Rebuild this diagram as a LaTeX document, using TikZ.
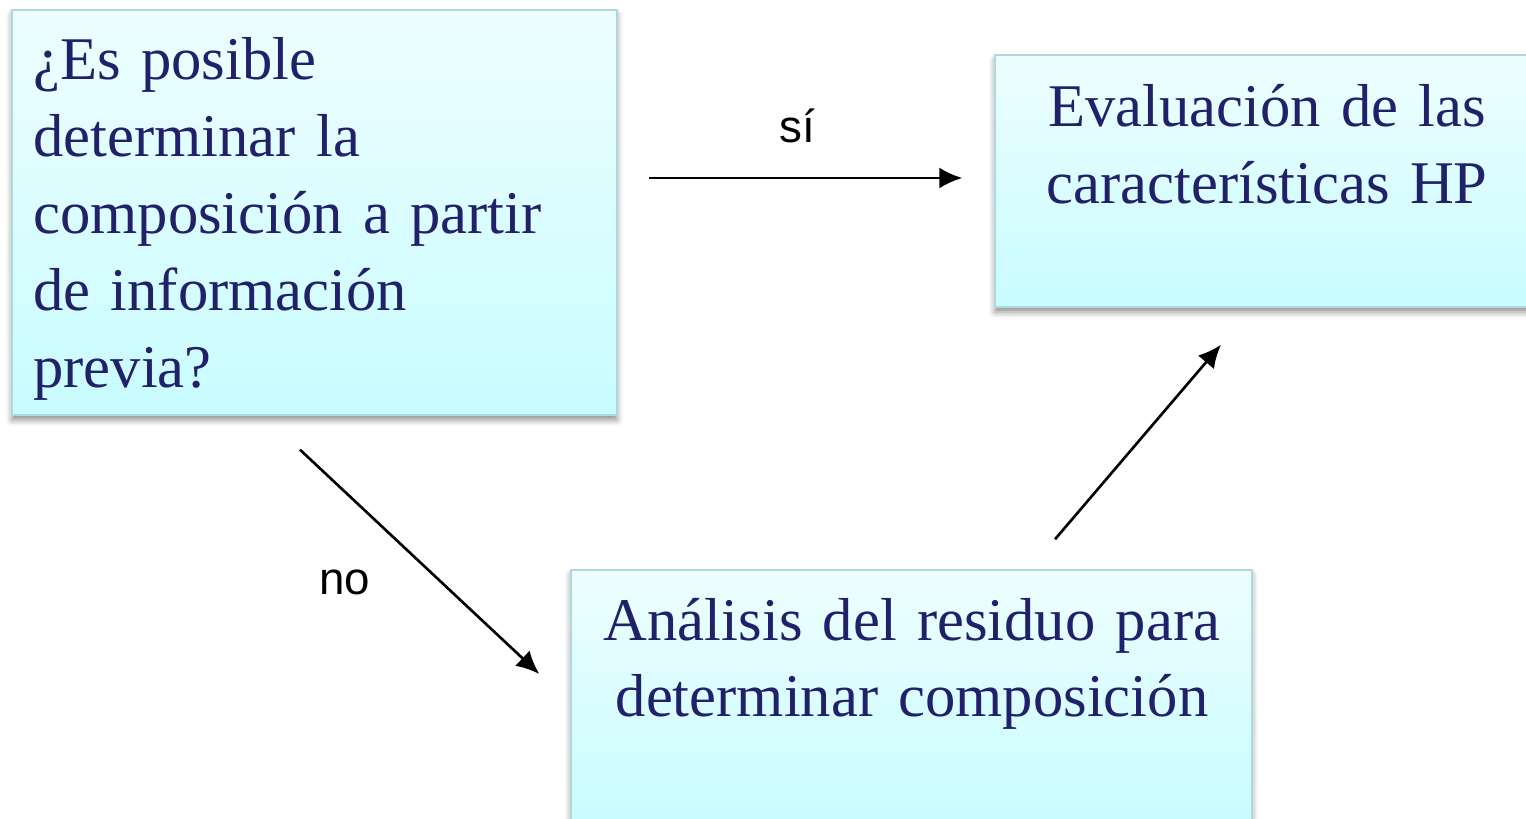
\documentclass[tikz,border=0pt]{standalone}
\usepackage{fontspec}
\setmainfont{Liberation Serif}[WordSpace=0.75]
\newfontfamily\answerfont{Liberation Sans}
\usetikzlibrary{arrows.meta,shadows.blur}
\definecolor{boxtop}{HTML}{EEFEFF}
\definecolor{boxbottom}{HTML}{C8FCFF}
\definecolor{boxline}{HTML}{ADD8DE}
\definecolor{navytext}{HTML}{21216A}
\begin{document}
\begin{tikzpicture}[
  box/.style={rectangle,draw=boxline,line width=0.8pt,top color=boxtop,bottom color=boxbottom,
    blur shadow={shadow xshift=0cm,shadow yshift=-0.1cm,shadow blur radius=0.12cm,shadow opacity=45}},
  boxtext/.style={font=\fontsize{34.5}{43.8}\selectfont,text=navytext,inner sep=0pt},
  answer/.style={font=\answerfont\fontsize{26}{30}\selectfont,inner sep=0pt},
  flow/.style={line width=1.5pt,-{Latex[length=0.46cm,width=0.42cm]}}]
  \useasboundingbox (0,0) rectangle (30.52,16.36);
  % draw question box
  \node at(6.29,12.11)[box,minimum width=12.1cm,minimum height=8.1cm](question){};
  \node at(0.66,14.76)[boxtext,anchor=base west,text width=11.4cm,align=left](questiontext){¿Es posible\\determinar la\\composición a partir\\de información\\previa?};
  % draw evaluation box
  \node at(25.45,12.74)[box,minimum width=11.1cm,minimum height=5.04cm](evaluation){};
  \node at(25.34,13.82)[boxtext,anchor=base,text width=10cm,align=center](evaluationtext){Evaluación de las\\características HP};
  % draw analysis box
  \node at(18.23,2.43)[box,minimum width=13.62cm,minimum height=5.06cm](analysis){};
  \node at(18.24,3.56)[boxtext,anchor=base,text width=13cm,align=center](analysistext){Análisis del residuo para\\determinar composición};
  % draw answer labels
  \node at(15.94,13.84)[answer](si){sí};
  \node at(6.9,4.72)[answer](no){no};
  % draw arrows between boxes
  \draw [flow]([shift={(0.62,0.69)}]question.east) -- ([shift={(-0.64,0.06)}]evaluation.west);
  \draw [flow]([shift={(-0.29,-0.68)}]question.south) -- ([shift={(-0.62,0.45)}]analysis.west);
  \draw [flow]([shift={(2.87,0.6)}]analysis.north) -- ([shift={(-1.03,-0.74)}]evaluation.south);
\end{tikzpicture}
\end{document}
